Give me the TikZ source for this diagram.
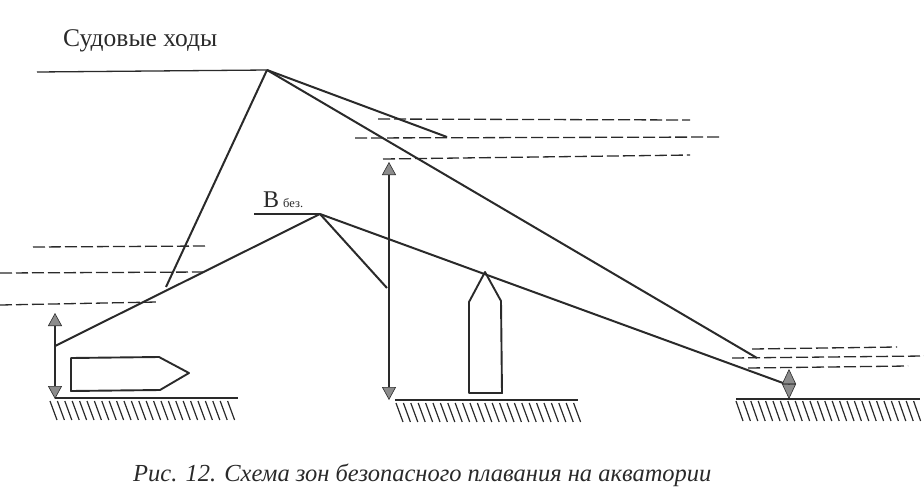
\documentclass[tikz,border=0pt]{standalone}
\usepackage{fontspec}
\setmainfont{Liberation Serif}
\usetikzlibrary{arrows.meta}
\definecolor{ink}{HTML}{2A2A2A}
\definecolor{tipfill}{HTML}{8C8C8C}
\tikzset{
  x=1pt,y=-1pt,
  solidline/.style={draw=ink,line width=2pt},
  thinline/.style={draw=ink,line width=1.3pt},
  dashline/.style={draw=ink,line width=1.3pt,dash pattern=on 12pt off 4pt},
  hull/.style={draw=ink,line width=1.9pt,line join=round},
  groundline/.style={draw=ink,line width=2.8pt},
  hatchline/.style={draw=ink,line width=1.2pt},
  dimline/.style={draw=ink,line width=1.4pt,{Triangle[length=13pt,width=14pt,fill=tipfill,color=ink,line width=.6pt]}-{Triangle[length=13pt,width=14pt,fill=tipfill,color=ink,line width=.6pt]}},
  shortdim/.style={draw=ink,line width=1.4pt,{Triangle[length=15pt,width=14pt,fill=tipfill,color=ink,line width=.6pt]}-{Triangle[length=15pt,width=14pt,fill=tipfill,color=ink,line width=.6pt]}},
  lbl/.style={inner sep=0pt,text=ink,anchor=base west}
}
\begin{document}
\begin{tikzpicture}
\useasboundingbox (0,0) rectangle (924,499);
% points
\coordinate (topL) at (37,72);
\coordinate (top) at (267,70);
\coordinate (lane1) at (166,287);
\coordinate (lane2) at (447,137);
\coordinate (lane3) at (757,358);
\coordinate (bL) at (254,214);
\coordinate (b) at (320,214);
\coordinate (e1) at (55,346);
\coordinate (e2) at (387,288);
\coordinate (e3) at (783,383);
% solid
\draw[thinline] (topL) -- (top);
\draw[solidline] (top) -- (lane1);
\draw[solidline] (top) -- (lane2);
\draw[solidline] (top) -- (lane3);
\draw[thinline] (bL) -- (b);
\draw[solidline] (b) -- (e1);
\draw[solidline] (b) -- (e2);
\draw[solidline] (b) -- (e3);
% dashed
\foreach \xa/\ya/\xb/\yb in {33/247/205/246, 0/273/205/272, 0/305/157/302,
  378/119/690/120, 355/138/722/137, 383/159/690/155,
  752/349/897/347, 732/358/924/356, 748/368/908/366}
  \draw[dashline] (\xa,\ya) -- (\xb,\yb);
% dimension arrows
\coordinate (d1a) at (55,313); \coordinate (d1b) at (55,399);
\coordinate (d2a) at (389,162); \coordinate (d2b) at (389,400);
\coordinate (d3a) at (789,369); \coordinate (d3b) at (789,399);
\draw[dimline] (d1a) -- (d1b);
\draw[dimline] (d2a) -- (d2b);
\draw[shortdim] (d3a) -- (d3b);
% ships
\draw[hull] (71,358) -- (159,357) -- (189,373) -- (160,390) -- (71,391) -- cycle;
\draw[hull] (469,393) -- (469,302) -- (485,272) -- (501,301) -- (502,393) -- cycle;
% ground
\draw[groundline] (55,398) -- (238,398);
\draw[groundline] (395,400) -- (578,400);
\draw[groundline] (736,399) -- (920,399);
\foreach \i in {0,...,24}{
  \draw[hatchline] ({50+7.4*\i},401) -- ({57+7.4*\i},420);
  \draw[hatchline] ({396+7.4*\i},403) -- ({403+7.4*\i},422);
  \draw[hatchline] ({736+7.4*\i},401) -- ({743+7.4*\i},421);
}
% text
\node[lbl,font=\fontsize{25.5}{30}\selectfont] (t1) at (63,46) {Судовые ходы};
\node[lbl,font=\fontsize{24}{28}\selectfont] (t2) at (263,207) {В};
\node[lbl,font=\fontsize{12.5}{15}\selectfont] (t3) at (283,207) {без.};
\node[lbl,font=\itshape\fontsize{24.5}{28}\selectfont] (t4) at (133,481) {Рис. 12. Схема зон безопасного плавания на акватории};
\end{tikzpicture}
\end{document}
